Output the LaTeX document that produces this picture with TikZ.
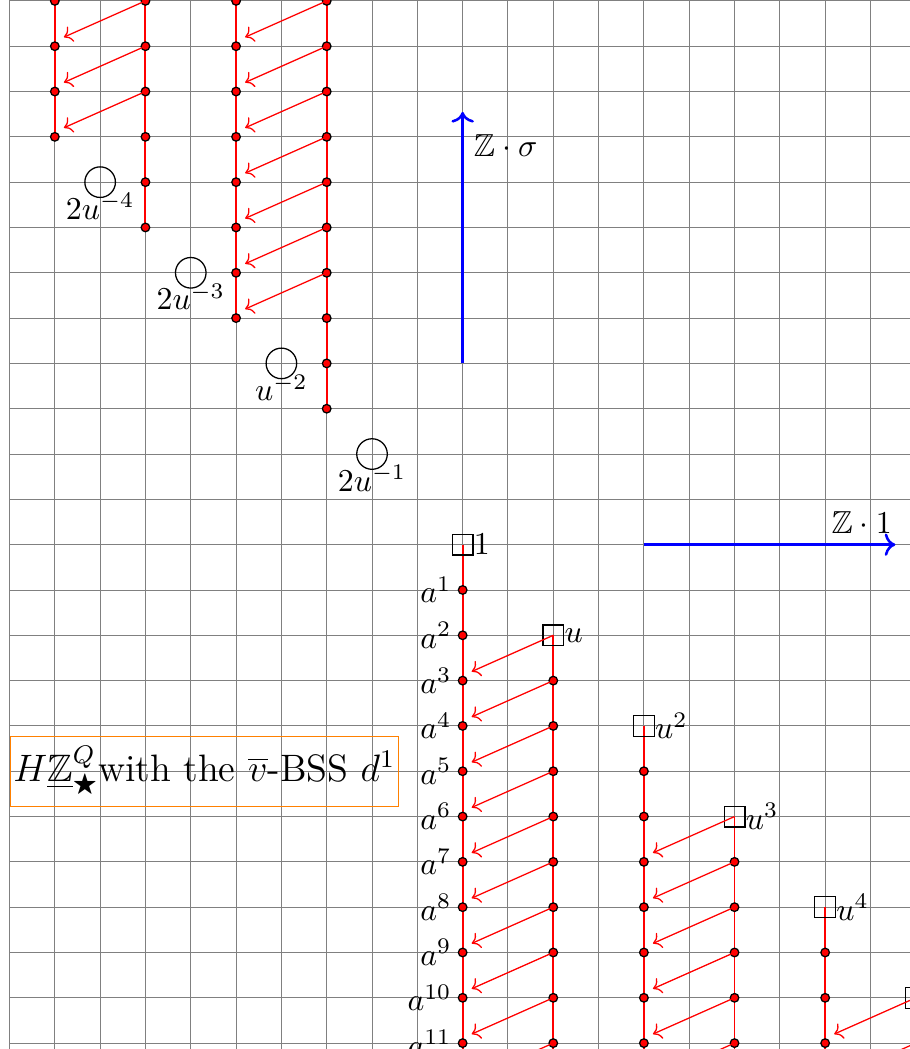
\documentclass[tikz,border=0pt]{standalone}
\usepackage{amsmath}
\usepackage{amssymb}
\usetikzlibrary{arrows.meta, calc, backgrounds}

\begin{document}
\begin{tikzpicture}[
  scale=0.5,
  gridline/.style={gray, line width=0.3pt},
  tower/.style={red, semithick},
  dot/.style={circle, draw=black, fill=red, inner sep=0pt, minimum size=2.7pt},
  gen/.style={rectangle, draw=black, thin, inner sep=0pt, minimum size=6.5pt},
  dualgen/.style={circle, draw=black, thin, inner sep=0pt, minimum size=9.6pt},
  done/.style={->, red, thin},
  axis/.style={->, blue, thick},
]
\useasboundingbox (-10.21,-11.13) rectangle (9.87,12.02);
\clip (-10.21,-11.13) rectangle (9.87,12.02);
\begin{scope}[on background layer]
  \draw[gridline] (-10,-11.5) grid (9.95,12.5);
\end{scope}

% generators u^k and their a-towers
\foreach \k/\lab in {0/1, 1/u, 2/u^2, 3/u^3, 4/u^4, 5/{}} {
  \node[gen] (u\k) at (2*\k,-2*\k) {};
  \node[right] (lu\k) at (u\k.center) {$\lab$};
}
\foreach \j in {1,...,12} {
  \node[dot] (d0-\j) at (0,-\j) {};
  \node[left] (la\j) at (d0-\j.center) {$a^{\j}$};
}
\foreach \k in {1,...,5} {
  \pgfmathtruncatemacro\n{12-2*\k}
  \foreach \j in {1,...,\n}
    \node[dot] (d\k-\j) at (2*\k,-2*\k-\j) {};
}
\begin{scope}[on background layer]
  \foreach \k in {0,...,5} {
    \pgfmathtruncatemacro\n{12-2*\k}
    \draw[tower] (u\k.center) -- (d\k-\n.center);
  }
\end{scope}

% negative generators and their towers
\foreach \k/\lab in {1/2u^{-1}, 2/u^{-2}, 3/2u^{-3}, 4/2u^{-4}} {
  \node[dualgen] (v\k) at (-2*\k,2*\k) {};
  \node[below] (lv\k) at (v\k.center) {$\lab$};
}
\foreach \k in {2,...,5} {
  \pgfmathtruncatemacro\n{14-2*\k}
  \foreach \j in {0,...,\n}
    \node[dot] (t\k-\j) at (1-2*\k,2*\k-1+\j) {};
}
\begin{scope}[on background layer]
  \foreach \k in {2,...,5} {
    \pgfmathtruncatemacro\n{14-2*\k}
    \draw[tower] (t\k-0.center) -- (t\k-\n.center);
  }
\end{scope}

% d^1 differentials
\foreach \k in {1,3,5} {
  \pgfmathtruncatemacro\m{\k-1}
  \draw[done] (u\k.center) -- ($(d\m-3)+(0.2,0.2)$);
  \pgfmathtruncatemacro\n{11-2*\k}
  \foreach \j in {1,...,\n} {
    \pgfmathtruncatemacro\t{\j+3}
    \draw[done] (d\k-\j.center) -- ($(d\m-\t)+(0.2,0.2)$);
  }
}
\foreach \k in {2,4} {
  \pgfmathtruncatemacro\m{\k+1}
  \pgfmathtruncatemacro\n{13-2*\k}
  \foreach \j in {3,...,\n} {
    \pgfmathtruncatemacro\t{\j-3}
    \draw[done] (t\k-\j.center) -- ($(t\m-\t)+(0.2,0.2)$);
  }
}

% axes
\coordinate (sstart) at (0,4);
\coordinate (send) at (0,9.55);
\coordinate (ostart) at (4,0);
\coordinate (oend) at (9.55,0);
\draw[axis] (sstart) -- (send);
\draw[axis] (ostart) -- (oend);
\node[right] (zsigma) at (0,8.8) {$\mathbb{Z}\cdot\sigma$};
\node[above left] (zone) at (9.72,0) {$\mathbb{Z}\cdot 1$};

\node[draw=orange, anchor=west, inner xsep=1pt, inner ysep=3pt] (title) at (-10,-5)
  {\large $H\underline{\mathbb{Z}}^Q_\bigstar$with the $\overline{v}$-BSS $d^1$};
\end{tikzpicture}
\end{document}
